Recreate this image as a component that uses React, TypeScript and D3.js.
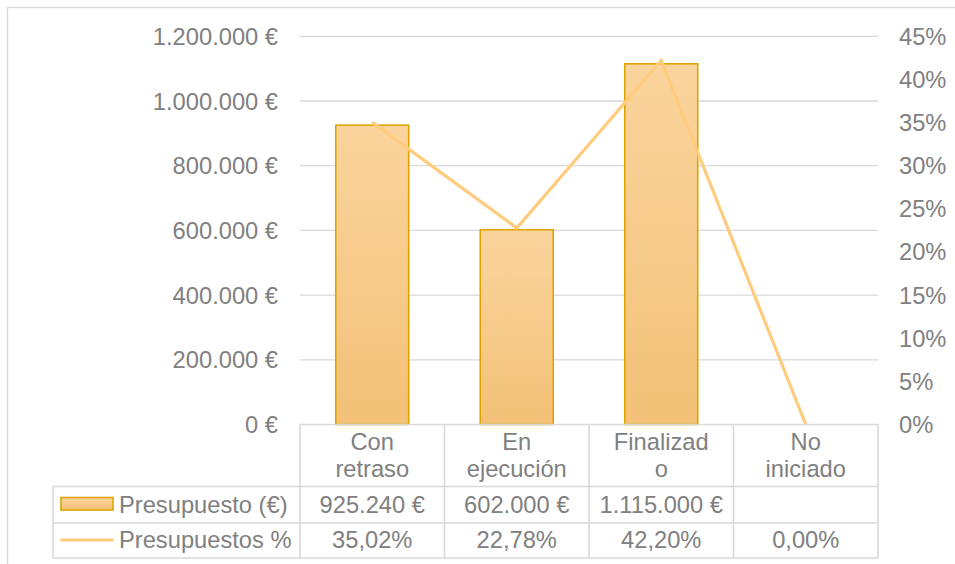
import React from "react";
import * as d3 from "d3";

const categories = ["Con retraso", "En ejecución", "Finalizado", "No iniciado"];
const categoryLines = [["Con", "retraso"], ["En", "ejecución"], ["Finalizad", "o"], ["No", "iniciado"]];
const budget: (number | null)[] = [925240, 602000, 1115000, null];
const percent = [0.3502, 0.2278, 0.422, 0];
const leftTicks = [0, 200000, 400000, 600000, 800000, 1000000, 1200000];
const rightTicks = [0, 0.05, 0.1, 0.15, 0.2, 0.25, 0.3, 0.35, 0.4, 0.45];
const seriesNames = ["Presupuesto (€)", "Presupuestos %"];

const W = 955;
const H = 564;
const plotL = 300;
const plotR = 878;
const plotT = 36.3;
const plotB = 424.5;
const tableL = 53;
const row1B = 486.5;
const row2B = 523;
const row3B = 558;

const TEXT = "#808080";
const GRID = "#d9d9d9";
const FONT = "'Liberation Sans', Arial, sans-serif";
const FS = 23.7;

const loc = d3.formatLocale({ decimal: ",", thousands: ".", grouping: [3], currency: ["", " €"] });
const fmtEur = loc.format("$,.0f");
const fmtPctAxis = loc.format(".0%");
const fmtPct = loc.format(".2%");

export default function App() {
  const x = d3.scaleBand<string>().domain(categories).range([plotL, plotR]).paddingInner(0).paddingOuter(0);
  const yL = d3.scaleLinear().domain([0, 1200000]).range([plotB, plotT]);
  const yR = d3.scaleLinear().domain([0, 0.45]).range([plotB, plotT]);
  const bw = x.bandwidth();
  const barW = bw * 0.505;

  const line = d3
    .line<number>()
    .x((_, i) => (x(categories[i]) as number) + bw / 2)
    .y((d) => yR(d));

  const colEdges = categories.map((c) => x(c) as number).concat([plotR]);

  return (
    <svg
      width={W}
      height={H}
      style={{ position: "absolute", left: 0, top: 0, background: "#fff" }}
      fontFamily={FONT}
      fontSize={FS}
    >
      <defs>
        <linearGradient id="barGrad" x1="0" y1="0" x2="0" y2="1">
          <stop offset="0" stopColor="#fad49d" />
          <stop offset="1" stopColor="#f3c177" />
        </linearGradient>
      </defs>
      <rect x={0} y={0} width={W} height={H} fill="#fff" />
      {/* outer border */}
      <rect x={7.5} y={7.5} width={1000} height={700} fill="none" stroke={GRID} strokeWidth={1.3} />

      {/* gridlines */}
      {leftTicks.slice(1).map((t) => (
        <line key={t} x1={plotL} x2={plotR} y1={yL(t)} y2={yL(t)} stroke={GRID} strokeWidth={1.3} />
      ))}

      {/* left axis labels */}
      {leftTicks.map((t) => (
        <text key={t} x={278} y={yL(t) + 8.5} textAnchor="end" fill={TEXT}>
          {fmtEur(t)}
        </text>
      ))}
      {/* right axis labels */}
      {rightTicks.map((t) => (
        <text key={t} x={899} y={yR(t) + 8.5} textAnchor="start" fill={TEXT}>
          {fmtPctAxis(t)}
        </text>
      ))}

      {/* bars */}
      {budget.map((v, i) =>
        v == null ? null : (
          <rect
            key={i}
            x={(x(categories[i]) as number) + (bw - barW) / 2}
            y={yL(v)}
            width={barW}
            height={plotB - yL(v)}
            fill="url(#barGrad)"
            stroke="#dea500"
            strokeWidth={1.6}
          />
        )
      )}

      {/* line */}
      <path d={line(percent) as string} fill="none" stroke="#ffcb7d" strokeWidth={3.2} strokeLinejoin="miter" />

      {/* data table */}
      <g stroke={GRID} strokeWidth={1.6} fill="none">
        <line x1={plotL} x2={plotR} y1={plotB} y2={plotB} />
        <line x1={tableL} x2={plotR} y1={row1B} y2={row1B} />
        <line x1={tableL} x2={plotR} y1={row2B} y2={row2B} />
        <line x1={tableL} x2={plotR} y1={row3B} y2={row3B} />
        <line x1={tableL} x2={tableL} y1={row1B} y2={row3B} />
        {colEdges.map((cx, i) => (
          <line key={i} x1={cx} x2={cx} y1={plotB} y2={row3B} />
        ))}
      </g>

      {/* header */}
      {categoryLines.map((lines, i) => (
        <g key={i}>
          {lines.map((ln, j) => (
            <text
              key={j}
              x={(x(categories[i]) as number) + bw / 2}
              y={450 + j * 26.7}
              textAnchor="middle"
              fill={TEXT}
            >
              {ln}
            </text>
          ))}
        </g>
      ))}

      {/* row 2 values */}
      {budget.map((v, i) =>
        v == null ? null : (
          <text key={i} x={(x(categories[i]) as number) + bw / 2} y={512.7} textAnchor="middle" fill={TEXT}>
            {fmtEur(v)}
          </text>
        )
      )}
      {/* row 3 values */}
      {percent.map((v, i) => (
        <text key={i} x={(x(categories[i]) as number) + bw / 2} y={548.3} textAnchor="middle" fill={TEXT}>
          {fmtPct(v)}
        </text>
      ))}

      {/* legend keys */}
      <rect x={61} y={497.5} width={52} height={12.5} fill="url(#barGrad)" stroke="#dea500" strokeWidth={1.6} />
      <line x1={60.5} x2={113.5} y1={540} y2={540} stroke="#ffcb7d" strokeWidth={3.2} />
      <text x={119} y={512.7} fill={TEXT}>
        {seriesNames[0]}
      </text>
      <text x={119} y={548.3} fill={TEXT}>
        {seriesNames[1]}
      </text>
    </svg>
  );
}
